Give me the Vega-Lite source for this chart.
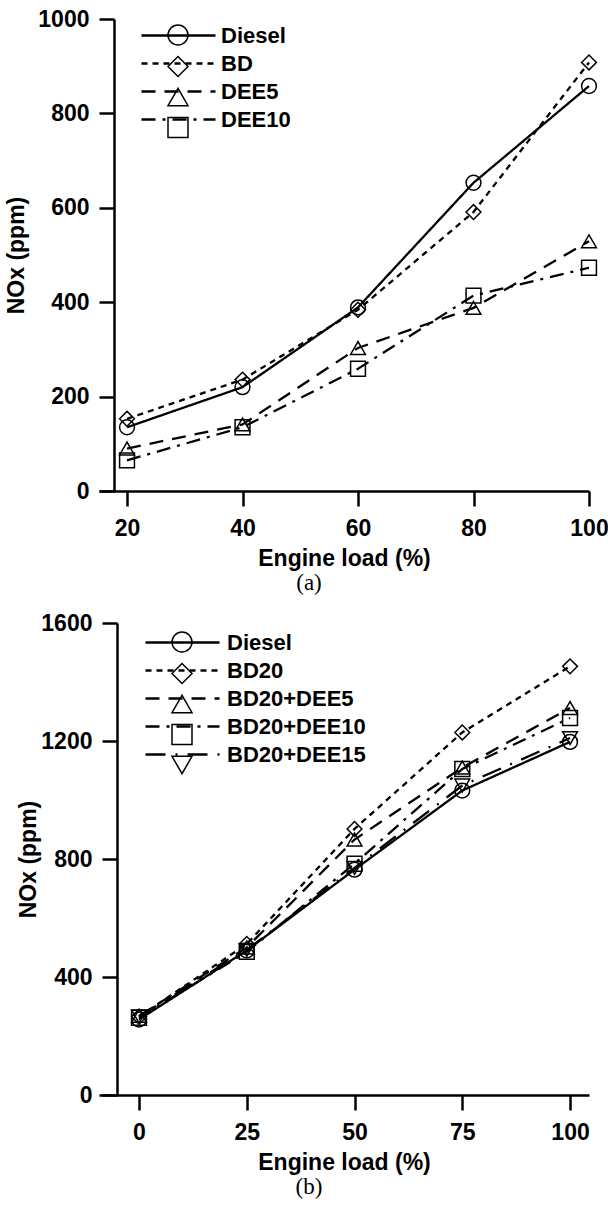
{
  "$schema": "https://vega.github.io/schema/vega-lite/v6.json",
  "background": "white",
  "padding": {"left": 5, "top": 8, "right": 5, "bottom": 5},
  "spacing": 17,
  "resolve": {
    "scale": {"x": "independent", "y": "independent", "strokeDash": "independent", "shape": "independent"},
    "legend": {"strokeDash": "independent", "shape": "independent"}
  },
  "config": {
    "view": {"stroke": null},
    "font": "Liberation Sans",
    "axis": {
      "domainColor": "black", "domainWidth": 2.5, "tickColor": "black", "tickWidth": 2.5, "tickSize": 15,
      "labelFont": "Liberation Sans", "labelFontSize": 23, "labelFontWeight": "bold", "labelColor": "black",
      "titleFont": "Liberation Sans", "titleFontSize": 23, "titleFontWeight": "bold", "titleColor": "black",
      "grid": false, "labelFlush": false, "labelOverlap": false, "format": "d"
    },
    "legend": {
      "labelFont": "Liberation Sans", "labelFontSize": 22, "labelFontWeight": "bold", "labelColor": "black",
      "rowPadding": 5, "labelLimit": 300
    }
  },
  "datasets": {
    "a": [
      {"series": "Diesel", "load": 20, "nox": 135},
      {"series": "Diesel", "load": 40, "nox": 220},
      {"series": "Diesel", "load": 60, "nox": 389},
      {"series": "Diesel", "load": 80, "nox": 653},
      {"series": "Diesel", "load": 100, "nox": 858},
      {"series": "BD", "load": 20, "nox": 153},
      {"series": "BD", "load": 40, "nox": 236},
      {"series": "BD", "load": 60, "nox": 384},
      {"series": "BD", "load": 80, "nox": 591},
      {"series": "BD", "load": 100, "nox": 908},
      {"series": "DEE5", "load": 20, "nox": 90},
      {"series": "DEE5", "load": 40, "nox": 141},
      {"series": "DEE5", "load": 60, "nox": 303},
      {"series": "DEE5", "load": 80, "nox": 388},
      {"series": "DEE5", "load": 100, "nox": 529},
      {"series": "DEE10", "load": 20, "nox": 65},
      {"series": "DEE10", "load": 40, "nox": 135},
      {"series": "DEE10", "load": 60, "nox": 259},
      {"series": "DEE10", "load": 80, "nox": 414},
      {"series": "DEE10", "load": 100, "nox": 473}
    ],
    "b": [
      {"series": "Diesel", "load": 0, "nox": 256},
      {"series": "Diesel", "load": 25, "nox": 490},
      {"series": "Diesel", "load": 50, "nox": 764},
      {"series": "Diesel", "load": 75, "nox": 1032},
      {"series": "Diesel", "load": 100, "nox": 1197},
      {"series": "BD20", "load": 0, "nox": 265},
      {"series": "BD20", "load": 25, "nox": 512},
      {"series": "BD20", "load": 50, "nox": 902},
      {"series": "BD20", "load": 75, "nox": 1229},
      {"series": "BD20", "load": 100, "nox": 1453},
      {"series": "BD20+DEE5", "load": 0, "nox": 268},
      {"series": "BD20+DEE5", "load": 25, "nox": 500},
      {"series": "BD20+DEE5", "load": 50, "nox": 866},
      {"series": "BD20+DEE5", "load": 75, "nox": 1110},
      {"series": "BD20+DEE5", "load": 100, "nox": 1312},
      {"series": "BD20+DEE10", "load": 0, "nox": 262},
      {"series": "BD20+DEE10", "load": 25, "nox": 485},
      {"series": "BD20+DEE10", "load": 50, "nox": 784},
      {"series": "BD20+DEE10", "load": 75, "nox": 1105},
      {"series": "BD20+DEE10", "load": 100, "nox": 1278},
      {"series": "BD20+DEE15", "load": 0, "nox": 266},
      {"series": "BD20+DEE15", "load": 25, "nox": 492},
      {"series": "BD20+DEE15", "load": 50, "nox": 770},
      {"series": "BD20+DEE15", "load": 75, "nox": 1049},
      {"series": "BD20+DEE15", "load": 100, "nox": 1210}
    ]
  },
  "vconcat": [
    {
      "width": 490,
      "height": 472,
      "data": {"name": "a"},
      "title": {"text": "(a)", "orient": "bottom", "font": "Liberation Serif", "fontSize": 23, "fontWeight": "normal", "color": "black", "frame": "group", "dx": -35, "offset": 2},
      "encoding": {
        "x": {"field": "load", "type": "quantitative", "scale": {"domain": [15.15, 100], "nice": false, "zero": false},
              "axis": {"values": [20, 40, 60, 80, 100], "title": "Engine load (%)", "labelPadding": 11, "titlePadding": 7}},
        "y": {"field": "nox", "type": "quantitative", "scale": {"domain": [0, 1000], "nice": false},
              "axis": {"values": [0, 200, 400, 600, 800, 1000], "title": "NOx (ppm)", "offset": -15, "labelPadding": 10, "titlePadding": 9}}
      },
      "layer": [
        {
          "mark": {"type": "line", "color": "black", "strokeWidth": 2.3},
          "encoding": {
            "strokeDash": {"field": "series", "type": "nominal",
              "scale": {"domain": ["Diesel", "BD", "DEE5", "DEE10"], "range": [[1, 0], [6, 5], [14, 9], [14, 7, 3, 7]]},
              "legend": {"title": null, "orient": "none", "legendX": 41, "legendY": 5, "symbolType": "M -3.7 0 L 3.7 0", "symbolSize": 400, "symbolOffset": 27, "symbolStrokeWidth": 2.3, "symbolStrokeColor": "black", "labelOffset": 31}}
          }
        },
        {
          "mark": {"type": "point", "color": "black", "filled": false, "strokeWidth": 1.5, "opacity": 1, "size": 220},
          "encoding": {
            "shape": {"field": "series", "type": "nominal",
              "scale": {"domain": ["Diesel", "BD", "DEE5", "DEE10"], "range": ["circle", "diamond", "triangle-up", "square"]},
              "legend": {"title": null, "orient": "top-left", "offset": 5, "symbolSize": 400, "symbolStrokeWidth": 1.5, "symbolStrokeColor": "black", "symbolOffset": 63, "labelExpr": "''", "rowPadding": 5.5}}
          }
        }
      ]
    },
    {
      "width": 490,
      "height": 472,
      "data": {"name": "b"},
      "title": {"text": "(b)", "orient": "bottom", "font": "Liberation Serif", "fontSize": 23, "fontWeight": "normal", "color": "black", "frame": "group", "dx": -35, "offset": 2},
      "encoding": {
        "x": {"field": "load", "type": "quantitative", "scale": {"domain": [-9.28, 104.4], "nice": false, "zero": false},
              "axis": {"values": [0, 25, 50, 75, 100], "title": "Engine load (%)", "labelPadding": 11, "titlePadding": 7}},
        "y": {"field": "nox", "type": "quantitative", "scale": {"domain": [0, 1600], "nice": false},
              "axis": {"values": [0, 400, 800, 1200, 1600], "title": "NOx (ppm)", "offset": -18, "labelPadding": 10, "titlePadding": 0}}
      },
      "layer": [
        {
          "mark": {"type": "line", "color": "black", "strokeWidth": 2.3},
          "encoding": {
            "strokeDash": {"field": "series", "type": "nominal",
              "scale": {"domain": ["Diesel", "BD20", "BD20+DEE5", "BD20+DEE10", "BD20+DEE15"], "range": [[1, 0], [6, 5], [14, 9], [14, 7, 3, 7], [20, 10, 2, 10]]},
              "legend": {"title": null, "orient": "none", "legendX": 45, "legendY": 8, "symbolType": "M -3.7 0 L 3.7 0", "symbolSize": 400, "symbolOffset": 27, "symbolStrokeWidth": 2.3, "symbolStrokeColor": "black", "labelOffset": 33}}
          }
        },
        {
          "mark": {"type": "point", "color": "black", "filled": false, "strokeWidth": 1.5, "opacity": 1, "size": 220},
          "encoding": {
            "shape": {"field": "series", "type": "nominal",
              "scale": {"domain": ["Diesel", "BD20", "BD20+DEE5", "BD20+DEE10", "BD20+DEE15"], "range": ["circle", "diamond", "triangle-up", "square", "triangle-down"]},
              "legend": {"title": null, "orient": "top-left", "offset": 8, "symbolSize": 400, "symbolStrokeWidth": 1.5, "symbolStrokeColor": "black", "symbolOffset": 64, "labelExpr": "''", "rowPadding": 5.5}}
          }
        }
      ]
    }
  ]
}
